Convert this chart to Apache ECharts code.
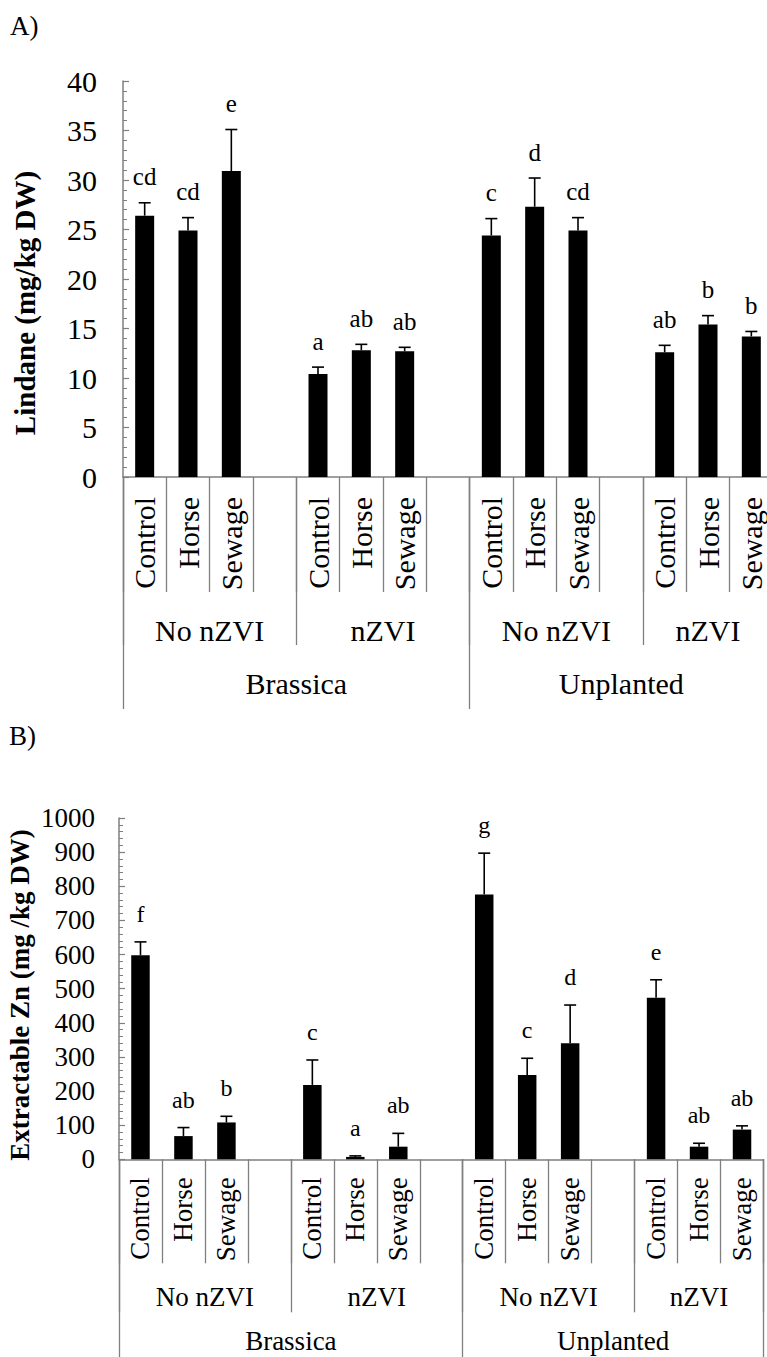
<!DOCTYPE html>
<html><head><meta charset="utf-8">
<script src="https://cdn.jsdelivr.net/npm/echarts@6/dist/echarts.min.js"></script>
<style>html,body{margin:0;padding:0;background:#fff}#c{width:767px;height:1357px}</style>
</head><body><div id="c"></div>
<script>
// ---- data ----
const treatments = ['Control', 'Horse', 'Sewage'];
const nzviGroups = ['No nZVI', 'nZVI', 'No nZVI', 'nZVI'];
const plantGroups = ['Brassica', 'Unplanted'];
const plantGroupSize = [2, 2]; // nZVI groups per plant group

const lindaneMean = [26.4, 24.9, 30.9, 10.4, 12.8, 12.7, 24.4, 27.3, 24.9, 12.6, 15.4, 14.2];
const lindaneErr  = [1.3, 1.3, 4.2, 0.7, 0.6, 0.4, 1.7, 2.9, 1.3, 0.7, 0.9, 0.5];
const lindaneLetters = ['cd', 'cd', 'e', 'a', 'ab', 'ab', 'c', 'd', 'cd', 'ab', 'b', 'b'];
const lindaneAxis = { min: 0, max: 40, interval: 5 };

const znMean = [598, 68, 108, 218, 7, 37, 776, 247, 340, 473, 37, 87];
const znErr  = [39, 25, 18, 73, 3, 39, 121, 49, 112, 53, 10, 11];
const znLetters = ['f', 'ab', 'b', 'c', 'a', 'ab', 'g', 'c', 'd', 'e', 'ab', 'ab'];
const znAxis = { min: 0, max: 1000, interval: 100 };

// ---- build slot structure (an empty slot separates nZVI groups) ----
const slotCats = [];
const barSlot = [];
const groupStart = [], groupLen = [];
nzviGroups.forEach((g, gi) => {
  groupStart.push(slotCats.length);
  treatments.forEach(t => { barSlot.push(slotCats.length); slotCats.push(t); });
  if (gi < nzviGroups.length - 1) slotCats.push('');
  groupLen.push(slotCats.length - groupStart[gi]);
});
const nSlots = slotCats.length;
const halfCount = nSlots * 2 + 1;
const lvl2Labels = new Array(halfCount).fill('');
const lvl2Ticks = [];
nzviGroups.forEach((g, gi) => {
  const last = gi === nzviGroups.length - 1;
  const span = last ? treatments.length : groupLen[gi];
  lvl2Labels[groupStart[gi] * 2 + span] = g;
  lvl2Ticks.push(groupStart[gi] * 2);
});
lvl2Ticks.push(nSlots * 2);
const lvl3Labels = new Array(halfCount).fill('');
const lvl3Ticks = [];
let gi0 = 0;
plantGroups.forEach((p, pi) => {
  const s = groupStart[gi0];
  const lastG = gi0 + plantGroupSize[pi] - 1;
  const e = (lastG === nzviGroups.length - 1) ? nSlots : groupStart[lastG] + groupLen[lastG];
  lvl3Labels[s + e] = p;
  lvl3Ticks.push(s * 2);
  gi0 += plantGroupSize[pi];
});
lvl3Ticks.push(nSlots * 2);

const FONT = "'Liberation Serif', 'Times New Roman', serif";
const LINE = '#7f7f7f';

function panel(idx, cfg) {
  const xBase = idx * 3;
  const slotMean = new Array(nSlots).fill(null);
  cfg.mean.forEach((v, i) => { slotMean[barSlot[i]] = v; });
  const errData = cfg.mean.map((v, i) => [barSlot[i], v, cfg.err[i]]);
  const grid = { left: cfg.left, top: cfg.top, width: cfg.width, height: cfg.height, containLabel: false, outerBoundsMode: 'none' };
  const lab = { color: '#000', fontFamily: FONT, fontSize: cfg.fs };
  const xAxes = [
    { gridIndex: idx, type: 'category', position: 'bottom', data: slotCats,
      axisLine: { show: true, onZero: false, lineStyle: { color: LINE, width: 1.5 } },
      axisTick: { show: true, interval: 0, length: cfg.t1, lineStyle: { color: LINE, width: 1.3 } },
      axisLabel: Object.assign({ interval: 0, rotate: 90, margin: cfg.m1 }, lab),
      splitLine: { show: false } },
    { gridIndex: idx, type: 'category', position: 'bottom', boundaryGap: false, data: lvl2Labels,
      axisLine: { show: false },
      axisTick: { show: true, interval: (i) => lvl2Ticks.includes(i), length: cfg.t2, lineStyle: { color: LINE, width: 1.3 } },
      axisLabel: Object.assign({ interval: 0, margin: cfg.m2, verticalAlign: 'middle' }, lab),
      splitLine: { show: false } },
    { gridIndex: idx, type: 'category', position: 'bottom', boundaryGap: false, data: lvl3Labels,
      axisLine: { show: false },
      axisTick: { show: true, interval: (i) => lvl3Ticks.includes(i), length: cfg.t3, lineStyle: { color: LINE, width: 1.3 } },
      axisLabel: Object.assign({ interval: 0, margin: cfg.m3, verticalAlign: 'middle' }, lab),
      splitLine: { show: false } }
  ];
  const yAxis = { gridIndex: idx, type: 'value', min: cfg.axis.min, max: cfg.axis.max, interval: cfg.axis.interval,
    axisLine: { show: true, lineStyle: { color: LINE, width: 1.5 } },
    axisTick: { show: true, inside: true, length: 6, lineStyle: { color: LINE, width: 1.2 } },
    minorTick: { show: true, splitNumber: 5, length: 4, lineStyle: { color: LINE, width: 1 } },
    splitLine: { show: false },
    axisLabel: Object.assign({ margin: cfg.ym, formatter: v => String(v) }, lab) };
  const series = [
    { type: 'bar', xAxisIndex: xBase, yAxisIndex: idx, data: slotMean, barWidth: cfg.bw,
      itemStyle: { color: '#000' }, silent: true, animation: false },
    { type: 'custom', xAxisIndex: xBase, yAxisIndex: idx, data: errData, clip: false, animation: false, silent: true,
      encode: { x: 0, y: 1 },
      renderItem: (params, api) => {
        const x = api.value(0), v = api.value(1), e = api.value(2);
        const b = api.coord([x, v]);
        const t = api.coord([x, v + e]);
        const st = { stroke: '#000', lineWidth: 1.6 };
        return { type: 'group', children: [
          { type: 'line', shape: { x1: b[0], y1: b[1], x2: t[0], y2: t[1] }, style: st },
          { type: 'line', shape: { x1: t[0] - 6, y1: t[1], x2: t[0] + 6, y2: t[1] }, style: st },
          { type: 'text', x: t[0], y: t[1] - cfg.lo, style: { text: cfg.letters[params.dataIndex], fill: '#000',
              font: cfg.lfs + 'px ' + FONT, align: 'center', verticalAlign: 'middle',
              textAlign: 'center', textVerticalAlign: 'middle' } }
        ] };
      } }
  ];
  return { grid, xAxes, yAxis, series };
}

const A = panel(0, { mean: lindaneMean, err: lindaneErr, letters: lindaneLetters, axis: lindaneAxis,
  left: 123, top: 81, width: 650, height: 396, fs: 30, lfs: 25, lo: 26, bw: 19,
  t1: 115, t2: 168, t3: 232, m1: 20, m2: 153, m3: 206, ym: 26 });
const B = panel(1, { mean: znMean, err: znErr, letters: znLetters, axis: znAxis,
  left: 119, top: 818, width: 644.5, height: 341.3, fs: 27, lfs: 24, lo: 28, bw: 18.5,
  t1: 104, t2: 153, t3: 210, m1: 18, m2: 138, m3: 182, ym: 24 });

const chart = echarts.init(document.getElementById('c'), null, { renderer: 'svg' });
chart.setOption({
  animation: false,
  backgroundColor: '#fff',
  grid: [A.grid, B.grid],
  xAxis: [...A.xAxes, ...B.xAxes],
  yAxis: [A.yAxis, B.yAxis],
  series: [...A.series, ...B.series],
  graphic: [
    { type: 'text', left: 10, top: 12, style: { text: 'A)', font: '27px ' + FONT, fill: '#000' } },
    { type: 'text', left: 9, top: 722, style: { text: 'B)', font: '27px ' + FONT, fill: '#000' } },
    { type: 'text', x: 25, y: 303, rotation: Math.PI / 2,
      style: { text: 'Lindane (mg/kg DW)', font: 'bold 29px ' + FONT, fill: '#000', align: 'center', verticalAlign: 'middle' } },
    { type: 'text', x: 20, y: 995, rotation: Math.PI / 2,
      style: { text: 'Extractable Zn (mg /kg DW)', font: 'bold 27px ' + FONT, fill: '#000', align: 'center', verticalAlign: 'middle' } }
  ]
});
</script></body></html>
